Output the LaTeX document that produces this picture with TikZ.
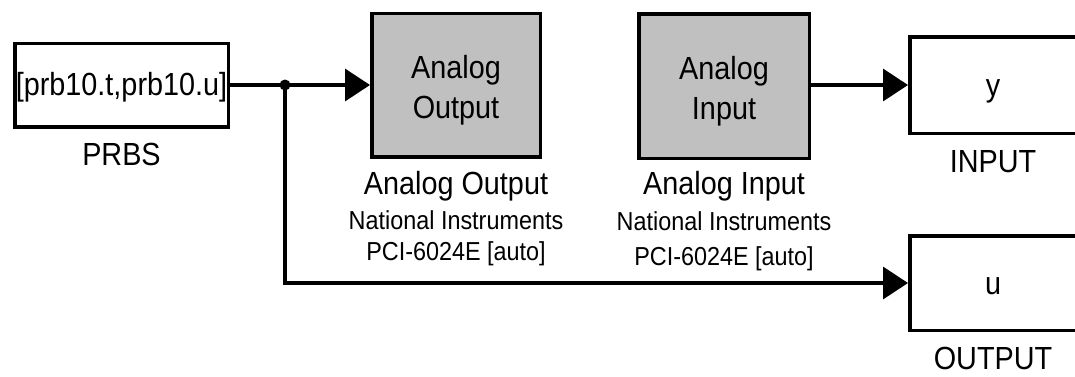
\documentclass[tikz,border=0pt]{standalone}
\usepackage{fontspec}
\setmainfont{Liberation Sans}[FakeStretch=0.9]
\usetikzlibrary{positioning,arrows.meta}
\definecolor{blockgray}{RGB}{192,192,192}

\begin{document}
\begin{tikzpicture}[x=1pt,y=-1pt,line width=3.5pt,
  blk/.style={draw,rectangle,inner sep=0pt,align=center,font=\fontsize{32}{40}\selectfont},
  hwblk/.style={blk,fill=blockgray,text height=72pt,text depth=6pt},
  biglbl/.style={inner sep=0pt,anchor=base,font=\fontsize{32}{38}\selectfont},
  smalllbl/.style={inner sep=0pt,anchor=base,font=\fontsize{26}{30}\selectfont},
  sig/.style={-{Triangle[length=25pt,width=32pt]}}]
\useasboundingbox (0,0) rectangle (1075,376);
% blocks
\node (prbs) [blk,minimum width=213.5pt,minimum height=83.5pt,text height=27pt,text depth=6pt] at (121.5,85) {[prb10.t,prb10.u]};
\node (ao) [hwblk,minimum width=168.5pt,minimum height=143.5pt] at (456,85) {Analog\\Output};
\node (ai) [hwblk,minimum width=170.5pt,minimum height=144.5pt] at (724,86) {Analog\\Input};
\node (ybox) [blk,minimum width=166.5pt,minimum height=96.5pt,text height=28pt,text depth=6pt] at (993,85) {y};
\node (ubox) [blk,minimum width=166.5pt,minimum height=94.5pt,text height=28pt,text depth=6pt] at (993,283) {u};
% labels
\node (prbslbl) [biglbl] at ([yshift=-37pt]prbs.south) {PRBS};
\node (aoname) [biglbl] at ([yshift=-36pt]ao.south) {Analog Output};
\node (aovendor) [smalllbl] at ([yshift=-71pt]ao.south) {National Instruments};
\node (aocard) [smalllbl] at ([yshift=-102pt]ao.south) {PCI-6024E [auto]};
\node (ainame) [biglbl] at ([yshift=-34pt]ai.south) {Analog Input};
\node (aivendor) [smalllbl] at ([yshift=-70pt]ai.south) {National Instruments};
\node (aicard) [smalllbl] at ([yshift=-105pt]ai.south) {PCI-6024E [auto]};
\node (ylbl) [biglbl] at ([yshift=-37pt]ybox.south) {INPUT};
\node (ulbl) [biglbl] at ([yshift=-37pt]ubox.south) {OUTPUT};
% signals
\coordinate (split) at (285,85);
\draw (prbs.east) -- (split);
\draw[sig] (split) -- (ao.west);
\draw[sig] (ai.east |- ybox.west) -- (ybox.west);
\draw[sig] (split) |- (ubox.west);
\fill (split) circle (5.5pt);
\end{tikzpicture}
\end{document}
